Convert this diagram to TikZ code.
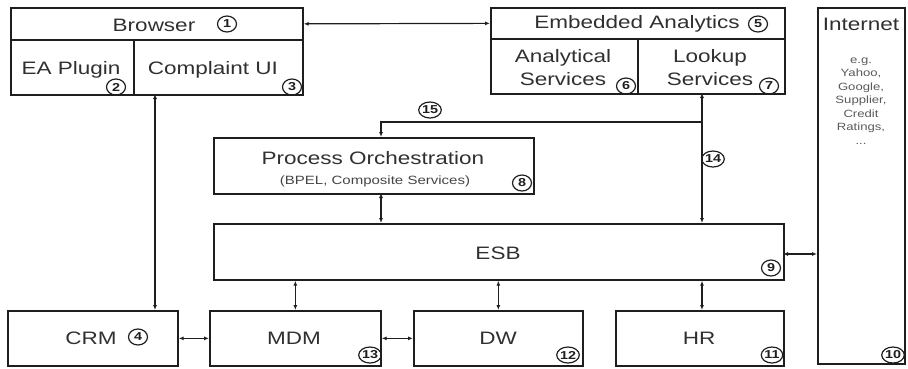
\documentclass[tikz,border=0pt]{standalone}
\usepackage{fontspec}
\setmainfont{Liberation Sans}[FakeStretch=1.25]
\usetikzlibrary{positioning,arrows.meta,shapes.geometric}

\definecolor{txtgray}{RGB}{48,48,48}
\definecolor{linegray}{RGB}{30,30,30}

\begin{document}
\begin{tikzpicture}[x=1pt, y=-1pt,
  box/.style   = {draw=linegray, line width=1.7pt, anchor=north west, inner sep=0pt},
  lbl/.style   = {text=txtgray, font=\fontsize{18}{23}\selectfont, align=center, inner sep=0pt},
  small/.style = {text=txtgray!90, font=\fontsize{12}{14}\selectfont, inner sep=0pt},
  tiny/.style  = {text=txtgray!80, font=\fontsize{10.5}{13.5}\selectfont, align=center, inner sep=0pt},
  num/.style   = {ellipse, draw=linegray, line width=1.2pt, minimum width=19pt, minimum height=16pt,
                  inner sep=0pt, font=\fontsize{11.5}{11.5}\selectfont\bfseries, text=linegray},
  link/.style  = {draw=linegray, line width=1.2pt, {Latex[length=5pt,width=4pt]}-{Latex[length=5pt,width=4pt]}},
  feed/.style  = {draw=linegray, line width=1.2pt, -{Latex[length=5pt,width=4pt]}}
]
\useasboundingbox (0,0) rectangle (908,368);

% boxes
\node[box, minimum width=292pt, minimum height=32pt] (browser)  at (10,7)   {};
\node[box, minimum width=123pt, minimum height=55pt] (eaplugin) at (10,39)  {};
\node[box, minimum width=169pt, minimum height=55pt] (complui)  at (133,39) {};
\node[box, minimum width=294pt, minimum height=31pt] (embana)   at (490,7)  {};
\node[box, minimum width=147pt, minimum height=55pt] (anaserv)  at (490,38) {};
\node[box, minimum width=147pt, minimum height=55pt] (lookserv) at (637,38) {};
\node[box, minimum width=87pt,  minimum height=356pt] (internet) at (817,7) {};
\node[box, minimum width=320pt, minimum height=56pt] (procorch) at (213,137) {};
\node[box, minimum width=570pt, minimum height=56pt] (esb)      at (213,223) {};
\node[box, minimum width=170pt, minimum height=55pt] (crm)      at (7,310)   {};
\node[box, minimum width=171pt, minimum height=55pt] (mdm)      at (209,310) {};
\node[box, minimum width=169pt, minimum height=55pt] (dw)       at (413,310) {};
\node[box, minimum width=168pt, minimum height=55pt] (hr)       at (615,310) {};

% texts
\node[lbl] (tbrowser) at (154,25)  {Browser};
\node[lbl] (teaplug)  at (71,70)   {EA Plugin};
\node[lbl] (tcompl)   at (213,70)  {Complaint UI};
\node[lbl] (tembana)  at (637,24)  {Embedded Analytics};
\node[lbl] (tanaserv) at (563,68)  {Analytical\\Services};
\node[lbl] (tlookup)  at (710,68)  {Lookup\\Services};
\node[lbl] (tinet)    at (861,24)  {Internet};
\node[tiny] (texmpl)  at (861,101) {e.g.\\Yahoo,\\Google,\\Supplier,\\Credit\\Ratings,\\...};
\node[lbl] (tproc)    at (373,158) {Process Orchestration};
\node[small] (tbpel)  at (375,181) {(BPEL, Composite Services)};
\node[lbl] (tesb)     at (498,253) {ESB};
\node[lbl] (tcrm)     at (91,338)  {CRM};
\node[lbl] (tmdm)     at (294,338) {MDM};
\node[lbl] (tdw)      at (498,338) {DW};
\node[lbl] (thr)      at (699,338) {HR};

% numbers
\node[num] (n1)  at (227,24)  {1};
\node[num] (n2)  at (116,87)  {2};
\node[num] (n3)  at (292,87)  {3};
\node[num] (n4)  at (138,337) {4};
\node[num] (n5)  at (758,24)  {5};
\node[num] (n6)  at (626,86)  {6};
\node[num] (n7)  at (769,86)  {7};
\node[num] (n8)  at (522,183) {8};
\node[num] (n9)  at (771,268) {9};
\node[num] (n10) at (893,355) {10};
\node[num] (n11) at (772,355) {11};
\node[num] (n12) at (568,355) {12};
\node[num] (n13) at (370,355) {13};
\node[num] (n14) at (713,159) {14};
\node[num] (n15) at (430,110) {15};

% connectors
\coordinate (bc)  at (155,94);
\coordinate (lk)  at (702,93);
\coordinate (j15) at (702,122);
\coordinate (pc)  at (381,193);
\coordinate (ie)  at (783,254);
\draw[link] (browser.east) -- (embana.west);
\draw[link] (bc) -- (bc |- crm.north);
\draw[link] (lk) -- (lk |- esb.north);
\draw[feed] (j15) -| (pc |- procorch.north);
\draw[link] (pc) -- (pc |- esb.north);
\draw[link] (mdm.north |- esb.south) -- (mdm.north);
\draw[link] (dw.north |- esb.south) -- (dw.north);
\draw[link] (lk |- esb.south) -- (lk |- hr.north);
\draw[link] (crm.east) -- (mdm.west);
\draw[link] (mdm.east) -- (dw.west);
\draw[link] (ie) -- (ie -| internet.west);
\end{tikzpicture}
\end{document}
